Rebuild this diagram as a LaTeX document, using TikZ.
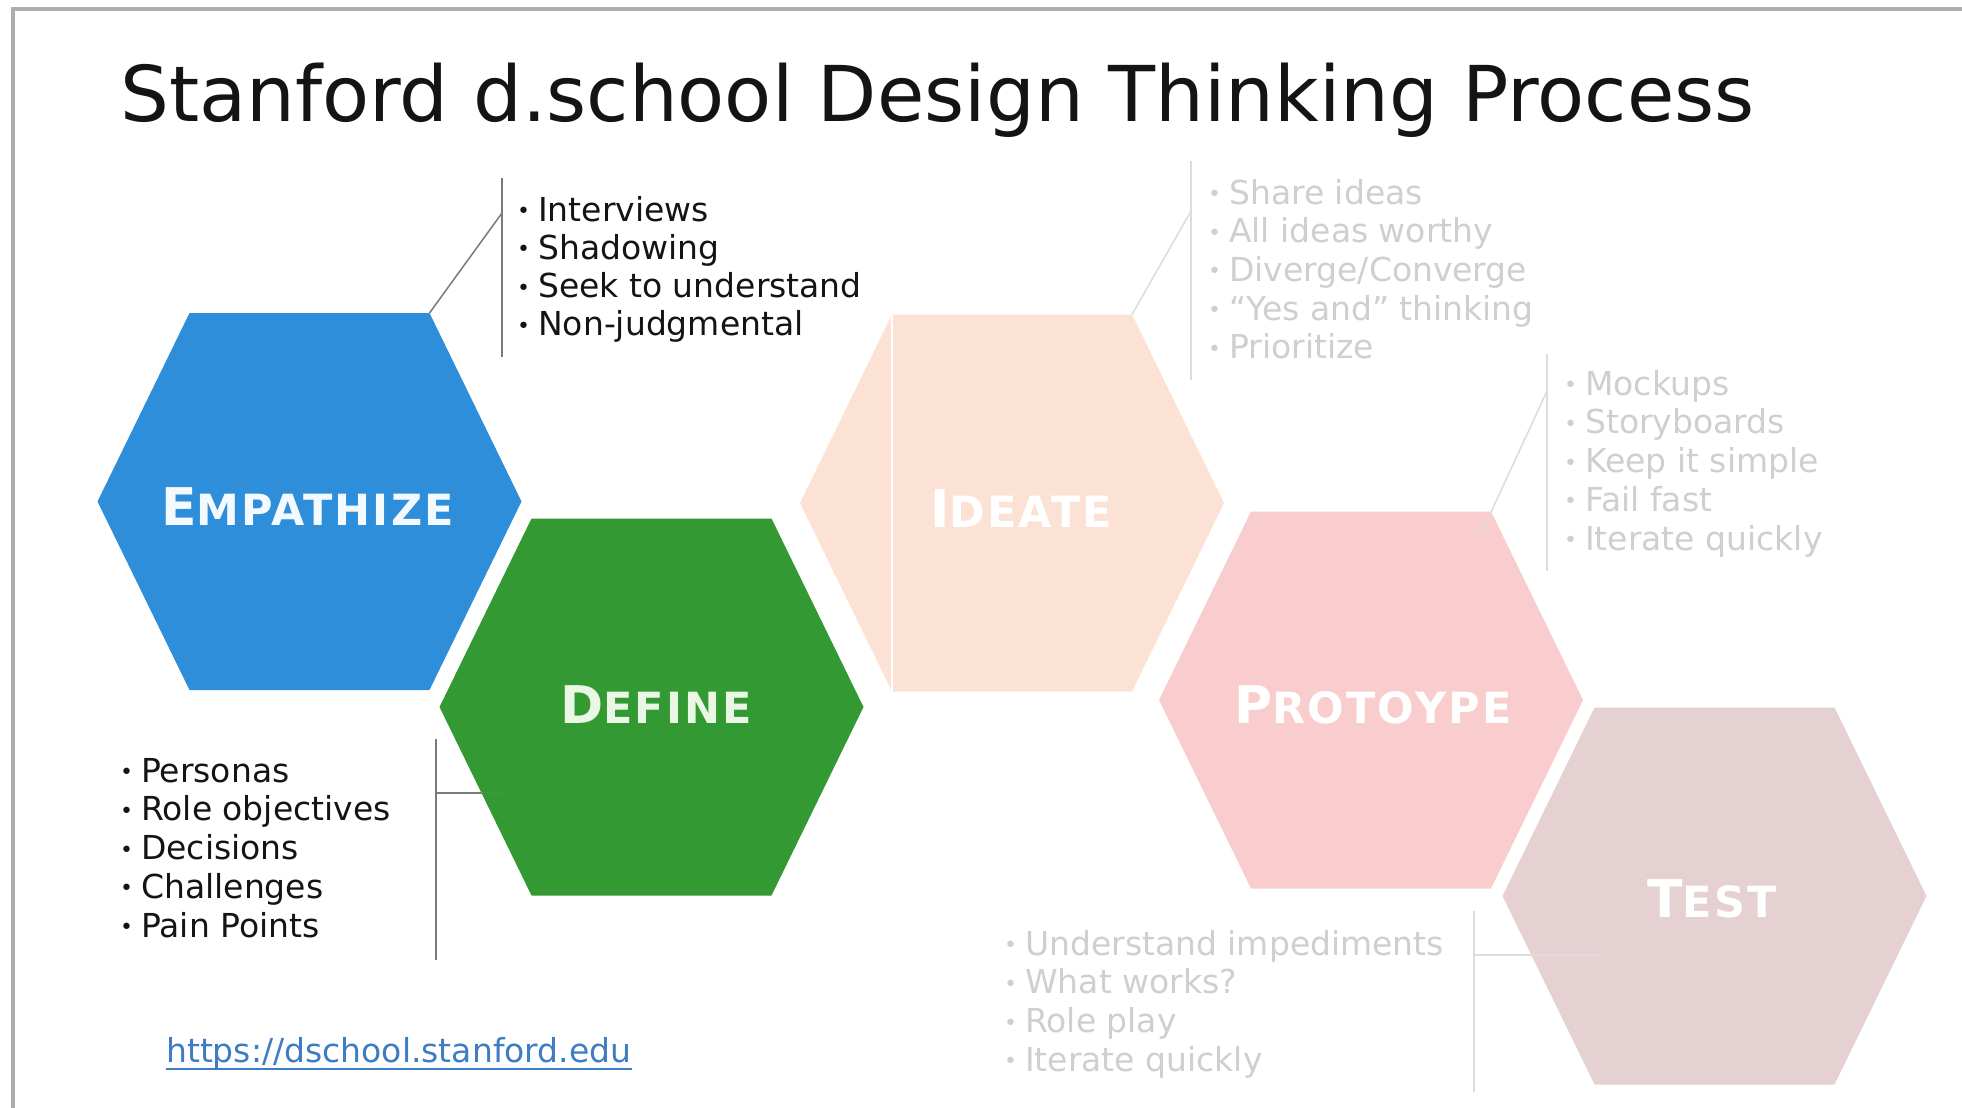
\documentclass[tikz,border=0pt]{standalone}
\usepackage{fontspec}
\setmainfont{DejaVu Sans}
\definecolor{empc}{HTML}{2E8EDA}
\definecolor{defc}{HTML}{339933}
\definecolor{idec}{HTML}{FCE2D4}
\definecolor{proc}{HTML}{F9CDCD}
\definecolor{tesc}{HTML}{E5D1D1}
\definecolor{framec}{HTML}{A9AEB3}
\definecolor{ink}{HTML}{141414}
\definecolor{faint}{HTML}{CFCFCF}
\definecolor{faintl}{HTML}{DCDCDC}
\definecolor{darkl}{HTML}{7A7A7A}
\definecolor{linkc}{HTML}{3E7CC4}
\definecolor{empt}{HTML}{F2F9FF}
\definecolor{deft}{HTML}{E9F7E4}
\newcommand{\fsc}[2]{{\addfontfeature{LetterSpace=5}{\fontsize{52}{52}\selectfont #1}{\fontsize{43}{43}\selectfont #2}}}
\newcommand{\mybul}{\makebox[21pt][l]{\raisebox{2.5pt}{\fontsize{22}{22}\selectfont •}}}
\newcommand{\hexa}[4]{%
  \begin{scope}[shift={(#2,#3)}]
    \coordinate (#1-w) at (-212,0);
    \coordinate (#1-nw) at (-120,-188.5);
    \coordinate (#1-ne) at (120,-188.5);
    \coordinate (#1-e) at (212,0);
    \coordinate (#1-se) at (120,188.5);
    \coordinate (#1-sw) at (-120,188.5);
  \end{scope}
  \fill[#4] (#1-w) -- (#1-nw) -- (#1-ne) -- (#1-e) -- (#1-se) -- (#1-sw) -- cycle;}
\tikzset{
  lbl/.style={font=\bfseries, inner sep=0pt, anchor=base},
  item/.style={font=\fontsize{33}{33}\selectfont, inner sep=0pt, anchor=base west},
  darkbar/.style={draw=darkl, line width=2pt},
  faintbar/.style={draw=faintl, line width=2pt},
}
\begin{document}
\begin{tikzpicture}[x=1pt,y=-1pt]
\useasboundingbox (0,0) rectangle (1962,1108);
\fill[white] (0,0) rectangle (1962,1108);
% frame
\draw[framec, line width=3.5pt] (13,1108) -- (13,9) -- (1962,9);

% title
\node[anchor=base west, inner sep=0pt, text=ink, font=\fontsize{77}{77}\selectfont] (title) at (120,121) {Stanford d.school Design Thinking Process};

% hexagons
\hexa{E}{309.5}{501.5}{empc}
\hexa{D}{651.5}{707}{defc}
\hexa{I}{1012}{503}{idec}
\hexa{P}{1371}{700}{proc}
\hexa{T}{1714.5}{896}{tesc}
\draw[white, line width=1.2pt] (I-nw) -- (I-sw);

% labels
\node[lbl, text=empt] (le) at (307.5,525) {\fsc{E}{MPATHIZE}};
\node[lbl, text=deft] (ld) at (656,723) {\fsc{D}{EFINE}};
\node[lbl, text=white] (li) at (1021,527) {\fsc{I}{DEATE}};
\node[lbl, text=white] (lp) at (1373,723) {\fsc{P}{ROTOYPE}};
\node[lbl, text=white] (lt) at (1712,917) {\fsc{T}{EST}};

% connectors: Empathize
\coordinate (eb1) at (502,178); \coordinate (eb2) at (502,357); \coordinate (ebj) at (502,213);
\draw[darkbar] (eb1) -- (eb2);
\draw[draw=darkl, line width=1.5pt] (E-ne) -- (ebj);
% Define
\coordinate (db1) at (436,739); \coordinate (db2) at (436,960); \coordinate (dbj) at (436,793);
\coordinate (dbe) at (483,793); \coordinate (dbf) at (502,793);
\draw[darkbar] (db1) -- (db2);
\draw[draw=darkl, line width=2pt] (dbj) -- (dbe);
\draw[draw=darkl, line width=2pt, opacity=0.3] (dbe) -- (dbf);
% Ideate
\coordinate (ib1) at (1191,161); \coordinate (ib2) at (1191,380); \coordinate (ibj) at (1191,211);
\draw[faintbar] (ib1) -- (ib2);
\draw[draw=faintl, line width=1.5pt] (I-ne) -- (ibj);
% Prototype
\coordinate (pb1) at (1547,354); \coordinate (pb2) at (1547,571); \coordinate (pbj) at (1547,391);
\coordinate (pbs) at (1480,536);
\draw[faintbar] (pb1) -- (pb2);
\draw[draw=faintl, line width=1.5pt] (pbs) -- (pbj);
% Test
\coordinate (tb1) at (1474,911); \coordinate (tb2) at (1474,1092); \coordinate (tbj) at (1474,955);
\coordinate (tbe) at (1600,955);
\draw[faintbar] (tb1) -- (tb2);
\draw[draw=faintl, line width=2pt] (tbj) -- (tbe);

% lists
\foreach \t [count=\i from 0] in {Interviews,Shadowing,Seek to understand,Non-judgmental}
  \node[item, text=ink] (e\i) at (517,221+38.3*\i) {\mybul\t};
\foreach \t [count=\i from 0] in {Personas,Role objectives,Decisions,Challenges,Pain Points}
  \node[item, text=ink] (d\i) at (120,782+38.8*\i) {\mybul\t};
\foreach \t [count=\i from 0] in {Share ideas,All ideas worthy,Diverge/Converge,“Yes and” thinking,Prioritize}
  \node[item, text=faint] (i\i) at (1208,204+38.7*\i) {\mybul\t};
\foreach \t [count=\i from 0] in {Mockups,Storyboards,Keep it simple,Fail fast,Iterate quickly}
  \node[item, text=faint] (p\i) at (1564,395+38.8*\i) {\mybul\t};
\foreach \t [count=\i from 0] in {Understand impediments,What works?,Role play,Iterate quickly}
  \node[item, text=faint] (t\i) at (1004,955+38.8*\i) {\mybul\t};

% link
\node[item, text=linkc] (link) at (166,1062) {https://dschool.stanford.edu};
\draw[linkc, line width=2pt] ([yshift=-7pt]link.base west) -- ([yshift=-7pt]link.base east);
\end{tikzpicture}
\end{document}
